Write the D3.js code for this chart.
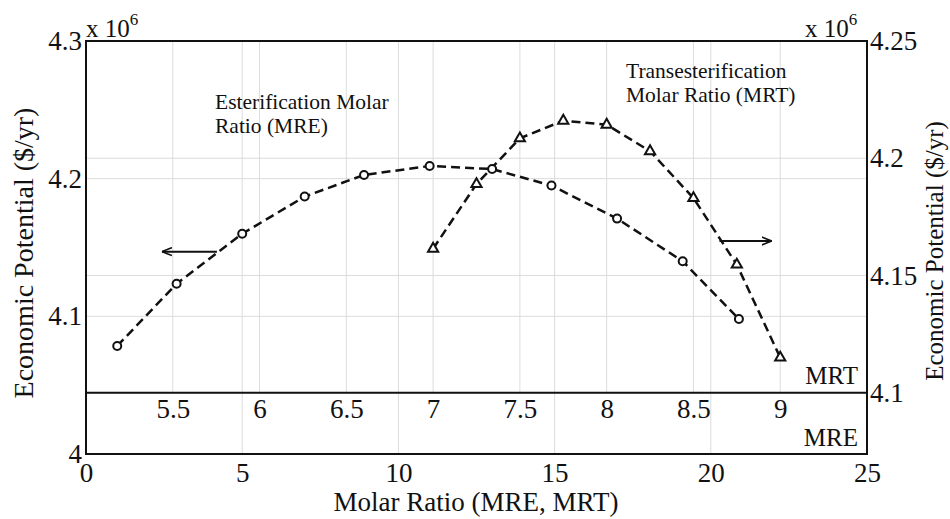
<!DOCTYPE html>
<html>
<head>
<meta charset="utf-8">
<script src="https://cdn.jsdelivr.net/npm/d3@7"></script>
<style>
  body { margin: 0; background: white; }
  text { font-family: "Liberation Serif", "Times New Roman", serif; fill: #111; }
</style>
</head>
<body>
<div id="canvas"></div>
<script>
var w = 950;
var h = 519;

// esterification molar ratio (MRE), left axis
var mreX = [1, 2.9, 5, 7, 8.9, 11, 13, 14.9, 17, 19.1, 20.9];
var mreEP = [4.0785, 4.1237, 4.160, 4.187, 4.2027, 4.2092, 4.207, 4.195, 4.171, 4.140, 4.098];

// transesterification molar ratio (MRT), right axis
var mrtX = [7, 7.25, 7.5, 7.75, 8, 8.25, 8.5, 8.75, 9];
var mrtEP = [4.1614, 4.189, 4.2085, 4.216, 4.2143, 4.203, 4.183, 4.1546, 4.115];

var mreTicks = [0, 5, 10, 15, 20, 25];
var mrtTicks = [5.5, 6, 6.5, 7, 7.5, 8, 8.5, 9];
var leftTicks = [4, 4.1, 4.2, 4.3];
var rightTicks = [4.1, 4.15, 4.2, 4.25];

var pL = 86, pR = 867, pT = 41, pB = 454, mrtLine = 392.7;

var x = d3.scaleLinear().domain([0, 25]).range([pL, pR]);
var xT = d3.scaleLinear().domain([5, 9.5]).range([pL, pR]);
var yL = d3.scaleLinear().domain([4, 4.3]).range([pB, pT]);
var yR = d3.scaleLinear().domain([4.1, 4.25]).range([mrtLine, pT]);

var fmt = function(d) { return String(+d.toFixed(2)); };

var svg = d3.select("#canvas").append("svg")
    .attr("width", w)
    .attr("height", h)
    .style("background-color", "white");

// grid lines
var grid = svg.append("g").attr("stroke", "#dcdcdc").attr("stroke-width", 1);
grid.selectAll("line.gmre")
    .data(mreTicks.slice(1, -1))
    .join("line")
    .attr("class", "gmre")
    .attr("x1", d => x(d)).attr("x2", d => x(d))
    .attr("y1", pT).attr("y2", pB);
grid.selectAll("line.gmrt")
    .data(mrtTicks)
    .join("line")
    .attr("class", "gmrt")
    .attr("x1", d => xT(d)).attr("x2", d => xT(d))
    .attr("y1", pT).attr("y2", mrtLine);
grid.selectAll("line.gl")
    .data(leftTicks.slice(1, -1))
    .join("line")
    .attr("class", "gl")
    .attr("x1", pL).attr("x2", pR)
    .attr("y1", d => yL(d)).attr("y2", d => yL(d));
grid.selectAll("line.gr")
    .data(rightTicks.slice(1, -1))
    .join("line")
    .attr("class", "gr")
    .attr("x1", pL).attr("x2", pR)
    .attr("y1", d => yR(d)).attr("y2", d => yR(d));

// axes (labels only)
function styleAxis(g) {
    g.select(".domain").remove();
    g.selectAll("line").remove();
    g.selectAll("text").style("font-size", "27px").attr("fill", "#111");
}

svg.append("g")
    .attr("transform", `translate(0,${pB})`)
    .call(d3.axisBottom(x).tickValues(mreTicks).tickSize(0).tickPadding(9).tickFormat(fmt))
    .call(styleAxis);

svg.append("g")
    .attr("transform", `translate(0,${mrtLine})`)
    .call(d3.axisBottom(xT).tickValues(mrtTicks).tickSize(0).tickPadding(6).tickFormat(fmt))
    .call(styleAxis);

svg.append("g")
    .attr("transform", `translate(${pL},0)`)
    .call(d3.axisLeft(yL).tickValues(leftTicks).tickSize(0).tickPadding(4).tickFormat(fmt))
    .call(styleAxis);

svg.append("g")
    .attr("transform", `translate(${pR},0)`)
    .call(d3.axisRight(yR).tickValues(rightTicks).tickSize(0).tickPadding(3).tickFormat(fmt))
    .call(styleAxis);

// frame and MRT axis line
svg.append("rect")
    .attr("x", pL).attr("y", pT)
    .attr("width", pR - pL).attr("height", pB - pT)
    .attr("fill", "none").attr("stroke", "#111").attr("stroke-width", 2);
svg.append("line")
    .attr("x1", pL).attr("x2", pR)
    .attr("y1", mrtLine).attr("y2", mrtLine)
    .attr("stroke", "#111").attr("stroke-width", 2);

// exponent labels
var e1 = svg.append("text").attr("x", pL).attr("y", 37).style("font-size", "25px");
e1.append("tspan").text("x 10");
e1.append("tspan").attr("dy", -12).style("font-size", "17px").text("6");
var e2 = svg.append("text").attr("x", 805).attr("y", 37).style("font-size", "25px");
e2.append("tspan").text("x 10");
e2.append("tspan").attr("dy", -12).style("font-size", "17px").text("6");

// axis titles
svg.append("text")
    .attr("x", 476).attr("y", 511)
    .attr("text-anchor", "middle")
    .style("font-size", "27px")
    .text("Molar Ratio (MRE, MRT)");
svg.append("text")
    .attr("transform", "translate(33,253) rotate(-90)")
    .attr("text-anchor", "middle")
    .style("font-size", "28px")
    .text("Economic Potential ($/yr)");
svg.append("text")
    .attr("transform", "translate(943,251) rotate(-90)")
    .attr("text-anchor", "middle")
    .style("font-size", "25px")
    .text("Economic Potential ($/yr)");

svg.append("text").attr("x", 858).attr("y", 384).attr("text-anchor", "end")
    .style("font-size", "25px").text("MRT");
svg.append("text").attr("x", 858).attr("y", 446).attr("text-anchor", "end")
    .style("font-size", "25px").text("MRE");

// annotations
function note(x0, y0, lines) {
    var t = svg.append("text").style("font-size", "21.5px");
    lines.forEach(function(s, i) {
        t.append("tspan").attr("x", x0).attr("y", y0 + i * 24).text(s);
    });
}
note(215, 109, ["Esterification Molar", "Ratio (MRE)"]);
note(626, 78, ["Transesterification", "Molar Ratio (MRT)"]);

// arrows
svg.append("defs").append("marker")
    .attr("id", "head")
    .attr("viewBox", "0 -5 10 10")
    .attr("refX", 10).attr("refY", 0)
    .attr("markerWidth", 10).attr("markerHeight", 10)
    .attr("markerUnits", "userSpaceOnUse")
    .attr("orient", "auto")
    .append("path")
    .attr("d", "M0,-4L10,0L0,4")
    .attr("fill", "none").attr("stroke", "#111").attr("stroke-width", 1.6);

svg.append("line")
    .attr("x1", x(4.19)).attr("x2", x(2.43))
    .attr("y1", yL(4.147)).attr("y2", yL(4.147))
    .attr("stroke", "#111").attr("stroke-width", 2)
    .attr("marker-end", "url(#head)");
svg.append("line")
    .attr("x1", xT(8.65)).attr("x2", xT(8.95))
    .attr("y1", yR(4.1647)).attr("y2", yR(4.1647))
    .attr("stroke", "#111").attr("stroke-width", 2)
    .attr("marker-end", "url(#head)");

// series
var mre = mreX.map((d, i) => [d, mreEP[i]]);
var mrt = mrtX.map((d, i) => [d, mrtEP[i]]);

svg.append("path")
    .datum(mre)
    .attr("d", d3.line().x(d => x(d[0])).y(d => yL(d[1])))
    .attr("fill", "none").attr("stroke", "#111")
    .attr("stroke-width", 2.5).attr("stroke-dasharray", "9,5");
svg.append("path")
    .datum(mrt)
    .attr("d", d3.line().x(d => xT(d[0])).y(d => yR(d[1])))
    .attr("fill", "none").attr("stroke", "#111")
    .attr("stroke-width", 2.5).attr("stroke-dasharray", "9,5");

svg.selectAll("circle.mre")
    .data(mre)
    .join("circle")
    .attr("class", "mre")
    .attr("cx", d => x(d[0])).attr("cy", d => yL(d[1]))
    .attr("r", 4)
    .attr("fill", "white").attr("stroke", "#111").attr("stroke-width", 2);

var tri = d3.symbol().type(d3.symbolTriangle).size(45);
svg.selectAll("path.mrt")
    .data(mrt)
    .join("path")
    .attr("class", "mrt")
    .attr("d", tri)
    .attr("transform", d => `translate(${xT(d[0])},${yR(d[1])})`)
    .attr("fill", "white").attr("stroke", "#111").attr("stroke-width", 2);
</script>
</body>
</html>
